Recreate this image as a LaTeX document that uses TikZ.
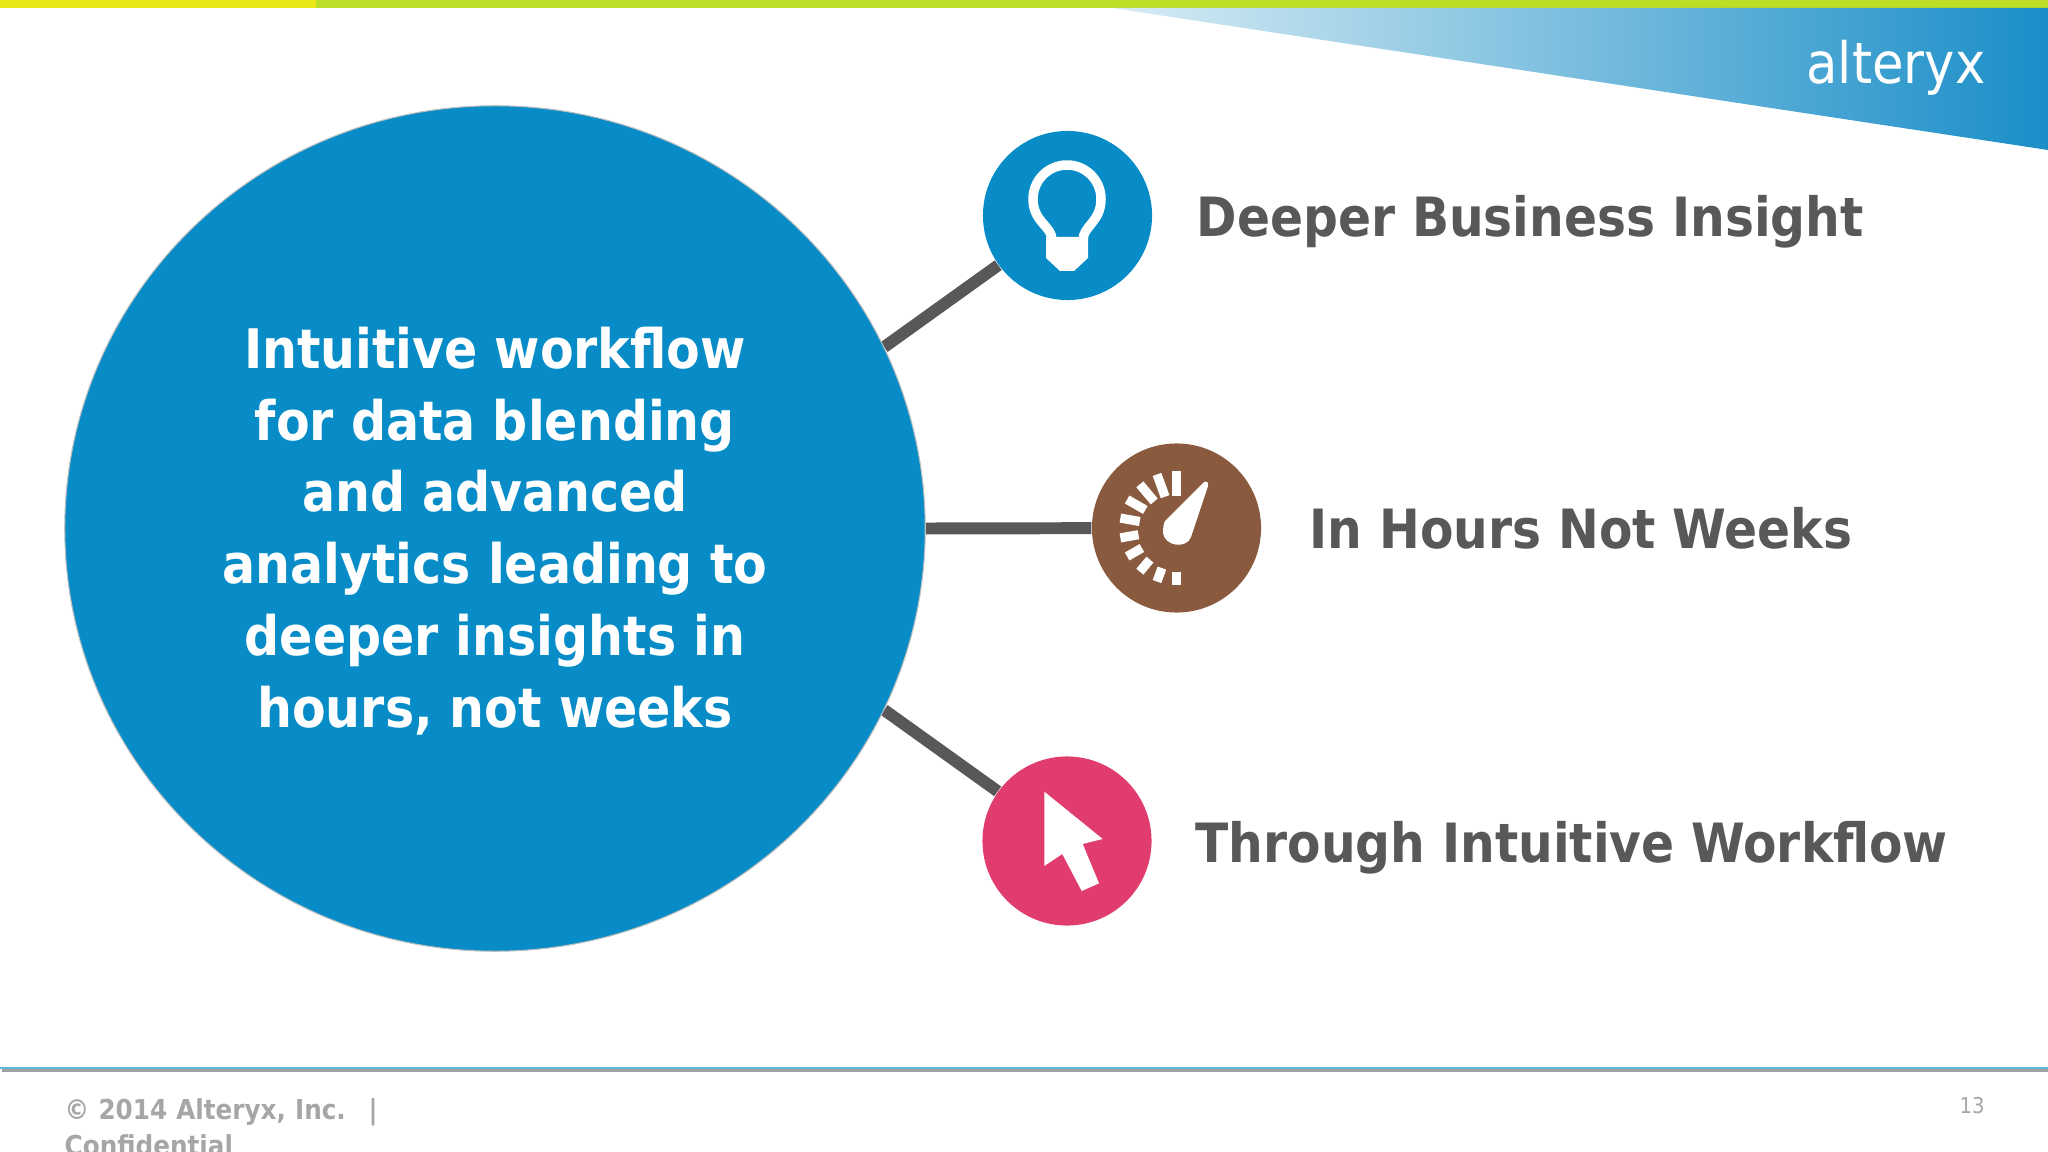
\documentclass[tikz,border=0pt]{standalone}
\usepackage{fontspec}
\setmainfont{DejaVu Sans Condensed}[BoldFont={DejaVu Sans Condensed Bold}]
\usetikzlibrary{backgrounds,shapes.geometric}
\definecolor{mainblue}{HTML}{078CC8}
\definecolor{brownfill}{HTML}{8A5A3F}
\definecolor{pinkfill}{HTML}{E03C6E}
\definecolor{linegrey}{HTML}{58585A}
\definecolor{footgrey}{HTML}{A6A6A8}
\definecolor{baryellow}{HTML}{E8E818}
\definecolor{bargreen}{HTML}{BCDE26}
\definecolor{tipblue}{HTML}{D8ECF4}
\definecolor{midblue}{HTML}{A2C6E0}
\definecolor{endblue}{HTML}{1A8EC8}
\definecolor{rulegrey}{HTML}{A0A0A0}
\definecolor{ruleblue}{HTML}{5BB8D8}
\tikzset{
  icon/.style={circle,fill=#1,minimum size=1.69cm,inner sep=0pt},
  itemtext/.style={anchor=base west,text=linegrey,inner sep=0pt,font=\fontsize{15.4}{20}\selectfont\bfseries},
  link/.style={draw=linegrey,line width=3.4pt},
  gaugetick/.style={draw=white,line width=2.6pt},
}
\begin{document}
\begin{tikzpicture}[x=0.01cm,y=-0.01cm]
  \useasboundingbox (0,0) rectangle (2048,1152);
  % top bars
  \fill[baryellow] (0,0) rectangle (316,8);
  \fill[bargreen] (316,0) rectangle (2048,8);
  \shade[left color=tipblue,middle color=midblue,right color=endblue] (1112,8) -- (2048,8) -- (2048,150) -- cycle;
  \draw
    (1896,68) node[text=white,font=\fontsize{16.2}{18}\selectfont] (logo){alteryx}
    (495,528.5) node[ellipse,fill=mainblue,draw=black!25,line width=0.3pt,minimum width=8.6cm,minimum height=8.45cm,inner sep=0pt] (main){}
    (495,531) node[align=center,text=white,font=\fontsize{15.5}{20.4}\selectfont\bfseries] (blurb){Intuitive workflow\\for data blending\\and advanced\\analytics leading to\\deeper insights in\\hours, not weeks}
    (1067.5,215.5) node[icon=mainblue] (bulb){}
    (1176.5,528) node[icon=brownfill] (gauge){}
    (1067,841) node[icon=pinkfill] (cursor){}
    (1196,237) node[itemtext] (insight){Deeper Business Insight}
    (1309,549) node[itemtext] (hours){In Hours Not Weeks}
    (1195,862) node[itemtext] (workflow){Through Intuitive Workflow};
  \begin{scope}[on background layer]
    \draw[link] (main.25.5) to (bulb);
    \draw[link] (main.east) to (gauge);
    \draw[link] (main.-25.5) to (cursor);
  \end{scope}
  % bulb
  \draw[white,line width=2.7pt,line join=round] (1052,240) .. controls (1052,226) and (1033,222) .. (1033,199)
    arc[start angle=180,end angle=360,radius=34] .. controls (1101,222) and (1083,226) .. (1083,240);
  \fill[white] (1046,237) -- (1088,237) -- (1088,258) -- (1074,271) -- (1060,271) -- (1046,258) -- cycle;
  % gauge
  \foreach \i in {0,...,9}
    \draw[gaugetick,shift={(gauge.center)}] (-90-\i*20:{32+\i*4/3}) -- (-90-\i*20:57);
  \fill[white] (1165,521) -- (1202,484) .. controls (1205,480) and (1209,481) .. (1208,486) -- (1191,537)
    .. controls (1187,549) and (1164,547) .. (1163,532) .. controls (1163,527) and (1164,523) .. (1165,521) -- cycle;
  % cursor
  \fill[white] (1044.3,791.7) -- (1102.7,839) -- (1082.7,844) -- (1099,883.3) -- (1081.7,891) -- (1062.3,854) -- (1044.3,866) -- cycle;
  % footer
  \fill[rulegrey] (2,1069) rectangle (2048,1072);
  \fill[ruleblue] (0,1067) rectangle (2048,1069);
  \draw
    (64,1098) node[anchor=north west,align=left,text=footgrey,inner sep=0pt,text width=6cm,font=\fontsize{7.8}{10.2}\selectfont\bfseries] (foot){© 2014 Alteryx, Inc.~ |\\Confidential}
    (1972,1106) node[text=footgrey,font=\fontsize{6.2}{8}\selectfont] (page){13};
\end{tikzpicture}
\end{document}
